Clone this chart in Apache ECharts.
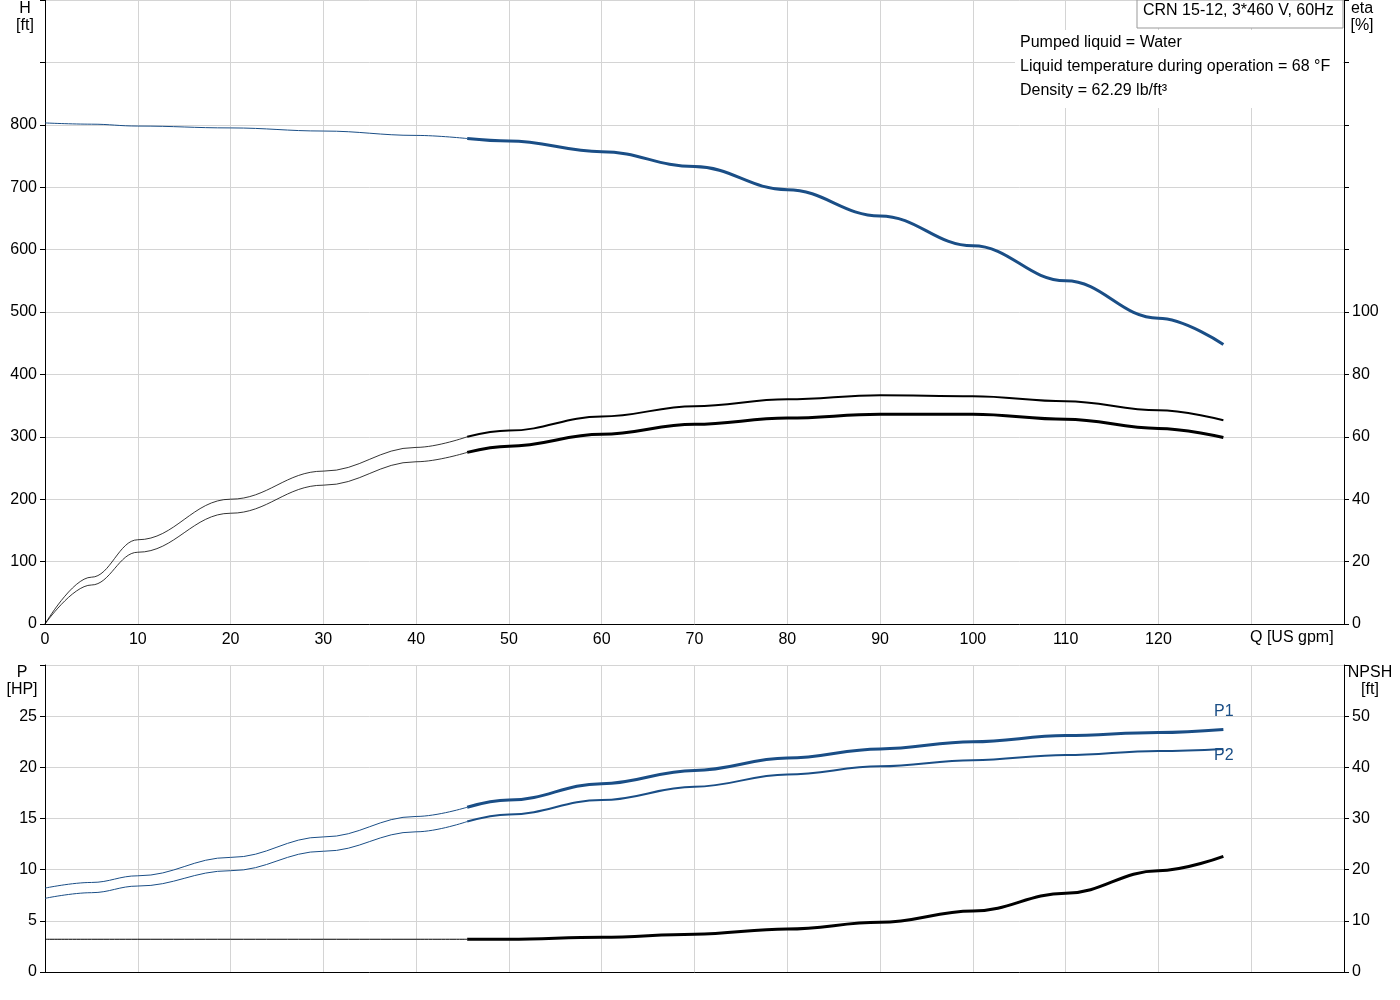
<!DOCTYPE html>
<html><head><meta charset="utf-8">
<script src="https://cdn.jsdelivr.net/npm/echarts@6/dist/echarts.min.js"></script>
<style>html,body{margin:0;background:#fff}#c{width:1400px;height:1000px}</style></head>
<body><div id="c"></div>
<script>
const qThin=[0,5,10,20,30,40,45.5];
const qThick=[45.5,50,60,70,80,90,100,110,120,127];
const hThin=[803,801,798,795,790,783,778];
const hThick=[778,774,757,733,696,654,606,550,490,448];
const eta1Thin=[0,15,27,40,49,56.6,60];
const eta1Thick=[60,62,66.5,69.8,72,73.3,73,71.4,68.5,65.3];
const eta2Thin=[0,12.5,23,35.5,44.5,52,55];
const eta2Thick=[55,57,60.8,64,66,67.2,67.2,65.6,62.7,59.8];
const p1Thin=[8.2,8.75,9.4,11.2,13.2,15.2,16.1];
const p1Thick=[16.1,16.8,18.4,19.7,20.9,21.8,22.5,23.1,23.4,23.7];
const p2Thin=[7.2,7.75,8.4,9.9,11.8,13.7,14.7];
const p2Thick=[14.7,15.4,16.8,18.1,19.3,20.1,20.7,21.2,21.6,21.8];
const npshThin=[6.4,6.4,6.4,6.4,6.4,6.4,6.4];
const npshThick=[6.4,6.4,6.8,7.4,8.4,9.7,11.9,15.4,19.8,22.6];
const xLabels=[0,10,20,30,40,50,60,70,80,90,100,110,120];

const BLUE='#1a4e86', F='Arial, Liberation Sans, sans-serif';
const zip=(xs,ys)=>xs.map((x,i)=>[x,ys[i]]);
const grid={lineStyle:{color:'#d4d4d4',width:1}};
const lbl={color:'#000',fontSize:16,fontFamily:F};
function ser(x,y,xi,yi,w,c){return {type:'line',xAxisIndex:xi,yAxisIndex:yi,data:zip(x,y),smooth:0.4,smoothMonotone:'x',symbol:'none',lineStyle:{color:c,width:w},silent:true};}
const axl={show:true,lineStyle:{color:'#000'}};
const tk={show:true,length:5,lineStyle:{color:'#000'}};
const opt={animation:false,
grid:[{left:45,right:56,top:0,height:624},{left:45,right:56,top:665,height:307}],
xAxis:[
{type:'value',gridIndex:0,min:0,max:140,interval:10,axisLine:axl,axisTick:{show:false},splitLine:grid,
 axisLabel:{...lbl,formatter:v=>xLabels.includes(v)?String(v):''}},
{type:'value',gridIndex:1,min:0,max:140,interval:10,axisLine:axl,axisTick:{show:false},splitLine:grid,axisLabel:{show:false}}],
yAxis:[
{type:'value',gridIndex:0,min:0,max:1000,interval:100,axisLine:axl,axisTick:tk,splitLine:grid,
 axisLabel:{...lbl,formatter:v=>v<=800?String(v):''}},
{type:'value',gridIndex:0,position:'right',min:0,max:200,interval:20,axisLine:axl,axisTick:tk,splitLine:{show:false},
 axisLabel:{...lbl,formatter:v=>v<=100?String(v):''}},
{type:'value',gridIndex:1,min:0,max:30,interval:5,axisLine:axl,axisTick:tk,splitLine:grid,
 axisLabel:{...lbl,formatter:v=>v<=25?String(v):''}},
{type:'value',gridIndex:1,position:'right',min:0,max:60,interval:10,axisLine:axl,axisTick:tk,splitLine:{show:false},
 axisLabel:{...lbl,formatter:v=>v<=50?String(v):''}}],
series:[
ser(qThin,hThin,0,0,1,BLUE),ser(qThick,hThick,0,0,3,BLUE),
ser(qThin,eta1Thin,0,1,0.8,'#000'),ser(qThick,eta1Thick,0,1,2,'#000'),
ser(qThin,eta2Thin,0,1,0.8,'#000'),ser(qThick,eta2Thick,0,1,3,'#000'),
ser(qThin,p1Thin,1,2,1,BLUE),ser(qThick,p1Thick,1,2,3,BLUE),
ser(qThin,p2Thin,1,2,1,BLUE),ser(qThick,p2Thick,1,2,2,BLUE),
ser(qThin,npshThin,1,3,1,'#000'),ser(qThick,npshThick,1,3,3,'#000')],
graphic:[
{type:'rect',shape:{x:1015,y:30,width:328,height:78},style:{fill:'#fff'},z:10},
{type:'rect',shape:{x:1137,y:0,width:206,height:28},style:{fill:'#fff',stroke:'#999',lineWidth:1},z:11},
{type:'text',x:1143,y:3,style:{text:'CRN 15-12, 3*460 V, 60Hz',font:'16px '+F,fill:'#000'},z:12},
{type:'text',x:1020,y:35,style:{text:'Pumped liquid = Water',font:'16px '+F,fill:'#000'},z:12},
{type:'text',x:1020,y:59,style:{text:'Liquid temperature during operation = 68 °F',font:'16px '+F,fill:'#000'},z:12},
{type:'text',x:1020,y:83,style:{text:'Density = 62.29 lb/ft³',font:'16px '+F,fill:'#000'},z:12},
{type:'text',x:25,y:0,style:{text:'H\n[ft]',font:'16px '+F,fill:'#000',align:'center',lineHeight:17},z:12},
{type:'text',x:1362,y:0,style:{text:'eta\n[%]',font:'16px '+F,fill:'#000',align:'center',lineHeight:17},z:12},
{type:'text',x:1250,y:630,style:{text:'Q [US gpm]',font:'16px '+F,fill:'#000'},z:12},
{type:'text',x:22,y:664,style:{text:'P\n[HP]',font:'16px '+F,fill:'#000',align:'center',lineHeight:17},z:12},
{type:'text',x:1370,y:664,style:{text:'NPSH\n[ft]',font:'16px '+F,fill:'#000',align:'center',lineHeight:17},z:12},
{type:'text',x:1214,y:704,style:{text:'P1',font:'16px '+F,fill:BLUE},z:12},
{type:'text',x:1214,y:748,style:{text:'P2',font:'16px '+F,fill:BLUE},z:12}
]};
echarts.init(document.getElementById('c')).setOption(opt);
</script></body></html>
